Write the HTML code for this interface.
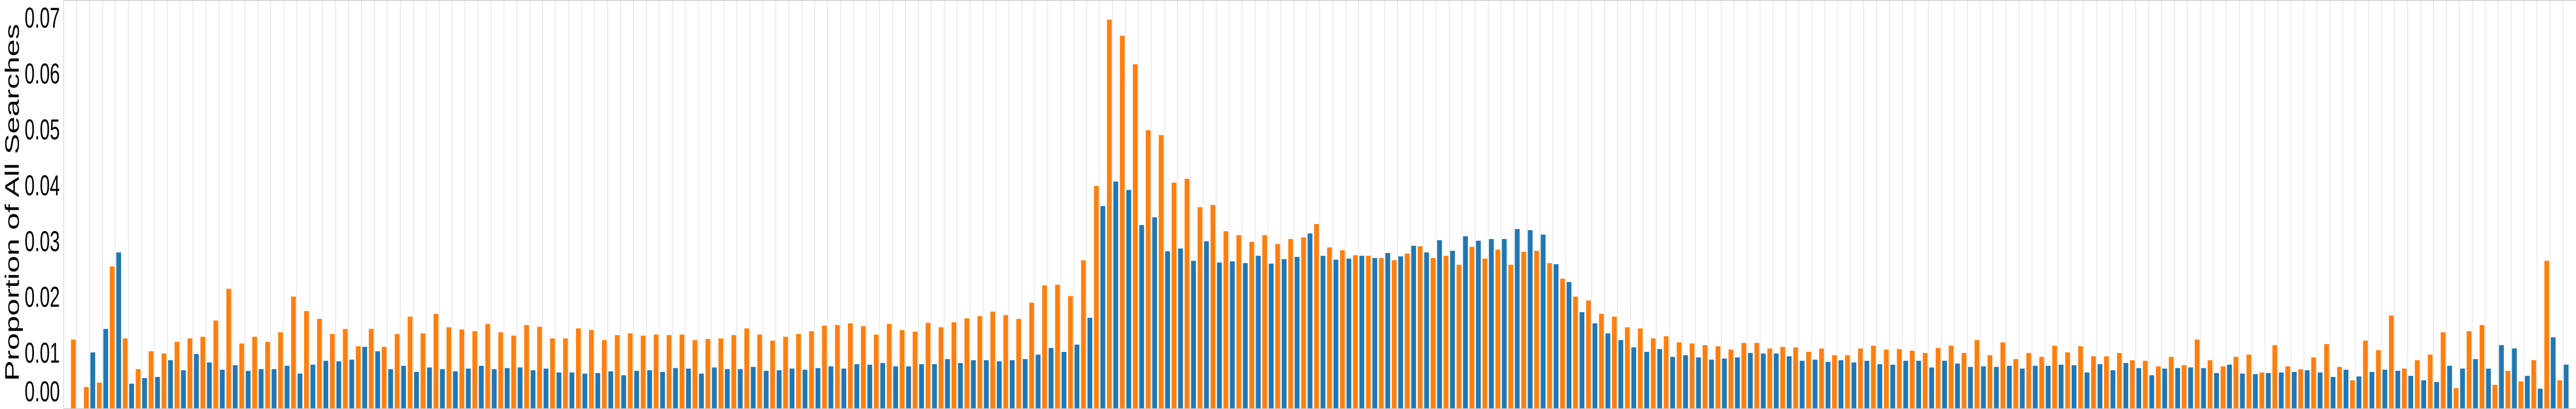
<!DOCTYPE html>
<html>
<head>
<meta charset="utf-8">
<style>
html,body{margin:0;padding:0;background:#fff;width:100%;height:100%;overflow:hidden;}
svg{display:block;position:absolute;left:0;top:0;width:100vw;height:100vh;}
text{font-family:"Liberation Sans",Arial,sans-serif;fill:#000;}
</style>
</head>
<body>
<svg id="chart" viewBox="0 0 7957 794" preserveAspectRatio="none" xmlns="http://www.w3.org/2000/svg">
  <g id="grid"></g>
  <g id="bars"></g>
  <g id="axes"></g>
  <text x="58" y="393" font-size="60" text-anchor="middle" transform="rotate(-90 58 393)">Proportion of All Searches</text>
</svg>
<script>
const orangeValues = [
12.3,3.8,4.6,25.4,12.5,7.0,10.2,9.8,11.9,12.5,12.8,15.7,21.4,11.6,12.8,11.9,13.6,20.0,17.4,16.0,
13.3,14.2,11.1,14.2,11.0,13.3,16.4,13.4,16.9,14.5,14.1,13.8,15.1,13.6,13.0,14.9,14.6,12.5,12.5,14.3,
14.0,12.2,13.1,13.4,13.0,13.2,13.1,13.2,12.2,12.4,12.5,13.1,14.3,13.2,12.1,12.8,13.3,13.8,14.8,14.9,
15.2,14.7,13.2,15.1,14.0,13.7,15.3,14.5,15.4,16.1,16.5,17.3,16.7,16.0,18.9,22.0,22.1,20.1,26.5,39.8,
69.6,66.7,61.6,49.8,48.9,40.4,41.1,36.0,36.4,31.7,31.0,29.8,31.0,29.4,30.3,30.6,33.0,28.8,28.3,27.4,
27.3,26.9,26.5,27.7,29.0,26.9,27.3,25.7,28.9,26.8,28.4,25.7,28.0,28.2,26.0,23.2,20.0,19.3,16.9,16.4,
14.5,14.3,12.5,12.9,11.8,11.6,11.3,11.1,10.5,11.7,11.7,10.7,11.0,10.9,10.1,10.7,9.5,9.5,10.7,11.2,
10.5,10.6,10.3,9.9,10.8,11.2,9.9,12.2,9.5,11.8,8.8,9.9,9.2,11.2,10.0,11.1,9.3,9.3,9.9,8.6,
8.5,7.5,9.2,7.7,12.3,8.6,7.5,9.2,9.6,6.4,11.3,7.5,7.0,9.1,11.5,7.4,5.0,12.1,10.4,16.6,
7.1,8.6,9.6,13.6,3.6,13.8,14.9,4.2,6.7,4.8,8.6,26.4,5.0
];
const blueValues = [
0,10.0,14.2,27.9,4.4,5.4,5.6,8.6,6.8,9.7,8.2,6.9,7.7,6.7,7.0,7.0,7.6,6.2,7.8,8.5,
8.4,8.7,11.0,10.2,7.0,7.6,6.5,7.3,7.0,6.6,7.1,7.6,7.0,7.2,7.3,6.8,7.1,6.4,6.4,6.2,
6.3,6.6,5.9,6.7,6.8,6.5,7.2,7.1,6.2,7.3,7.0,7.0,7.4,6.7,6.8,7.1,6.9,7.2,7.5,7.1,
7.9,7.8,8.1,7.5,7.5,7.9,7.9,8.8,8.1,8.6,8.6,8.4,8.6,8.8,9.6,10.8,10.1,11.4,16.2,36.2,
40.6,39.1,32.8,34.2,28.1,28.6,26.4,29.9,26.1,26.3,26.0,27.3,25.9,26.7,27.1,31.3,27.3,26.6,26.8,27.3,
26.9,27.8,27.2,29.1,27.9,30.1,28.2,30.8,30.0,30.3,30.3,32.1,31.9,31.1,25.8,22.6,17.2,15.2,13.4,12.2,
10.9,10.1,10.6,9.2,9.5,9.1,8.7,8.9,9.1,9.9,9.8,9.8,9.3,8.5,8.7,8.3,8.6,8.2,8.5,7.9,
7.8,8.5,8.5,7.3,8.5,8.0,7.4,7.5,7.4,7.6,7.1,7.6,7.6,7.8,7.7,6.4,7.9,6.8,8.1,7.2,
5.9,7.1,7.2,7.3,7.2,6.3,7.8,6.2,6.1,6.3,6.4,6.5,6.8,6.4,5.6,6.9,5.7,6.5,6.9,6.7,
5.8,5.0,4.7,7.6,7.1,8.8,7.1,11.3,10.7,5.8,3.5,12.7,7.8
];
const yTickValues = [0,0.01,0.02,0.03,0.04,0.05,0.06,0.07];
const yTickLabels = ["0.00","0.01","0.02","0.03","0.04","0.05","0.06","0.07"];

const NS = "http://www.w3.org/2000/svg";
const plotLeft = 196.6, plotBottom = 792.5, step = 40, pxPerUnit = 10840;
function xCenter(i){ return plotLeft + step * (i + 1); }
function yPos(v){ return plotBottom - v * pxPerUnit; }
function mk(tag, attrs){ const e = document.createElementNS(NS, tag); for (const k in attrs) e.setAttribute(k, attrs[k]); return e; }

const grid = document.getElementById('grid');
const bars = document.getElementById('bars');
const axes = document.getElementById('axes');
const n = orangeValues.length;

for (let i = 0; i < n; i++) {
  const gl = mk('line', {x1: xCenter(i), x2: xCenter(i), y1: 0, y2: 794, stroke: '#d0d0d0', 'stroke-width': 1.3});
  
  
  grid.appendChild(gl);
}
const bw = 14.8;
for (let i = 0; i < n; i++) {
  const c = xCenter(i);
  const vo = orangeValues[i] / 1000, vb = blueValues[i] / 1000;
  const ro = mk('rect', {x: c - 10 - bw/2, y: yPos(vo), width: bw, height: plotBottom - yPos(vo), fill: '#ff7f0e'});
  
  
  bars.appendChild(ro);
  const rb = mk('rect', {x: c + 10 - bw/2, y: yPos(vb), width: bw, height: plotBottom - yPos(vb), fill: '#1f77b4'});
  
  
  bars.appendChild(rb);
}
const spL = mk('line', {x1: plotLeft, x2: plotLeft, y1: 0, y2: 794, stroke: '#cccccc', 'stroke-width': 1.5});


axes.appendChild(spL);
const spT = mk('line', {x1: plotLeft, x2: 7957, y1: 0.7, y2: 0.7, stroke: '#cccccc', 'stroke-width': 1.5});


axes.appendChild(spT);
const spB = mk('line', {x1: plotLeft, x2: 7957, y1: 793.3, y2: 793.3, stroke: '#cccccc', 'stroke-width': 1.5});


axes.appendChild(spB);

for (let k = 0; k < yTickValues.length; k++) {
  let y = yPos(yTickValues[k]);
  if (y > 760) y = 759;
  const t = mk('text', {x: 185, y: y + 20, 'font-size': 56, 'text-anchor': 'end'});
  t.textContent = yTickLabels[k];
  
  
  axes.appendChild(t);
}
</script>
</body>
</html>
